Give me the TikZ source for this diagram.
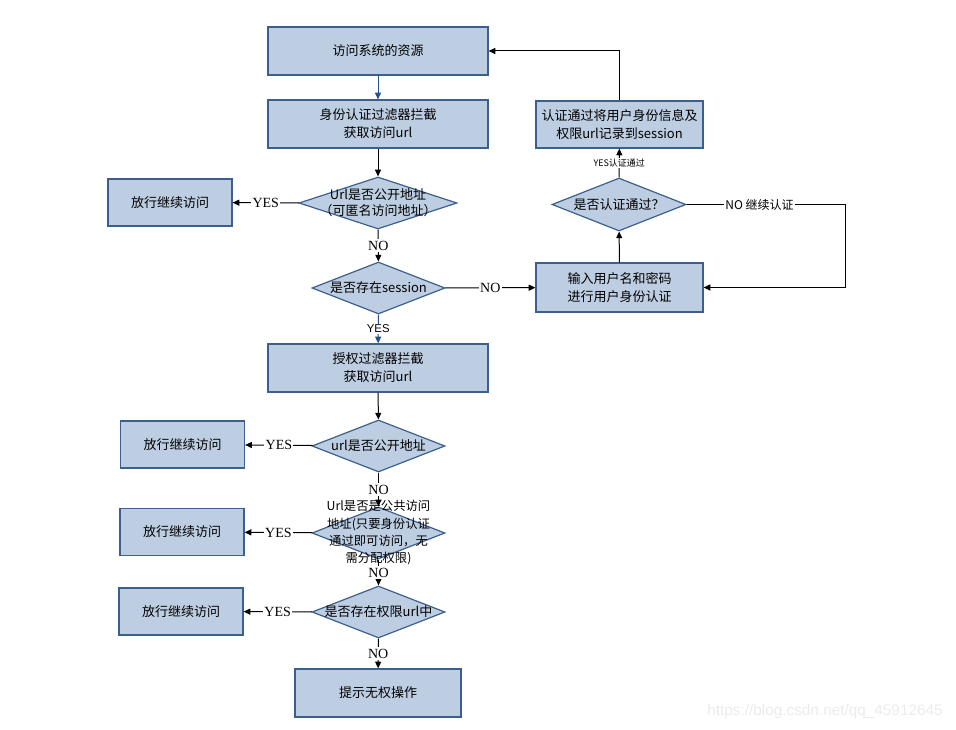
\documentclass[tikz,border=0pt]{standalone}
\usepackage{fontspec}
\setmainfont{Liberation Serif}
\setsansfont{Liberation Sans}
\newfontfamily\cjk{Noto Sans CJK SC}
\usetikzlibrary{shapes.geometric,arrows.meta}
\definecolor{boxfill}{RGB}{190,206,226}
\definecolor{boxline}{RGB}{60,96,142}
\definecolor{flowblue}{RGB}{40,80,140}
\begin{document}
\begin{tikzpicture}[x=0.75pt,y=-0.75pt,
  box/.style={draw=boxline,fill=boxfill,line width=0.9pt,inner sep=0pt,align=center,font=\cjk\fontsize{9.75}{13.5}\selectfont},
  dia/.style={diamond,draw=boxline,fill=boxfill,line width=0.9pt,inner sep=0pt},
  txt/.style={align=center,inner sep=0pt,font=\cjk\fontsize{9.75}{12}\selectfont},
  arr/.style={draw=black,line width=0.75pt,-{Triangle[length=5pt,width=4.5pt]}},
  barr/.style={draw=flowblue,line width=0.75pt,-{Triangle[length=5pt,width=4.5pt]}},
  lbl/.style={fill=white,inner sep=1pt,font=\fontsize{10.5}{12}\selectfont}]
\useasboundingbox (0,0) rectangle (956,730);

% main column
\node[box,minimum width=165pt,minimum height=36pt] (a) at (378,51) {访问系统的资源};
\node[box,minimum width=165pt,minimum height=36pt] (b) at (378,124) {身份认证过滤器拦截\\获取访问url};
\node[dia,minimum width=118.5pt,minimum height=39pt] (d1) at (378,203) {};
\node[txt] (t1) at (d1) {Url是否公开地址\\（可匿名访问地址）};
\node[dia,minimum width=99.75pt,minimum height=39pt] (d2) at (378.5,288) {};
\node[txt] (t2) at (d2) {是否存在session};
\node[box,minimum width=165pt,minimum height=36pt] (c) at (378,368) {授权过滤器拦截\\获取访问url};
\node[dia,minimum width=99.75pt,minimum height=39pt] (d3) at (378.5,446) {};
\node[txt] (t3) at (d3) {url是否公开地址};
\node[dia,minimum width=99.75pt,minimum height=39pt] (d4) at (378.5,533) {};
\node[dia,minimum width=99.75pt,minimum height=39pt] (d5) at (378.5,612) {};
\node[txt] (t5) at (d5) {是否存在权限url中};
\node[box,minimum width=124.5pt,minimum height=36pt] (e) at (378,693) {提示无权操作};

% left boxes
\node[box,minimum width=93pt,minimum height=35.25pt] (l1) at (170,202.5) {放行继续访问};
\node[box,minimum width=93pt,minimum height=35.25pt] (l2) at (182.5,444.5) {放行继续访问};
\node[box,minimum width=93pt,minimum height=35.25pt] (l3) at (182,532) {放行继续访问};
\node[box,minimum width=93pt,minimum height=35.25pt] (l4) at (181,611.5) {放行继续访问};

% right column
\node[box,minimum width=125.25pt,minimum height=35.25pt] (r1) at (619.5,124.5) {认证通过将用户身份信息及\\权限url记录到session};
\node[dia,minimum width=100.5pt,minimum height=39.75pt] (rd) at (619,204.5) {};
\node[txt] (trd) at (rd) {是否认证通过？};
\node[box,minimum width=125.25pt,minimum height=36.75pt] (r2) at (619.5,287.5) {输入用户名和密码\\进行用户身份认证};
\coordinate (k1) at (845,204.5);

% connectors
\draw[barr] (a) -- (b);
\draw[arr] (b) -- (d1);
\draw[arr] (d1) -- node[lbl]{YES} (l1);
\draw[arr] (d1) -- node[lbl]{NO} (d2);
\draw[arr] (d2) -- node[lbl]{NO} (r2);
\draw[barr] (d2) -- node[lbl,font=\sffamily\fontsize{8.5}{10}\selectfont]{YES} (c);
\draw[arr] (c) -- (d3);
\draw[arr] (d3) -- node[lbl]{YES} (l2);
\draw[arr] (d3) -- node[lbl]{NO} (d4);
\draw[arr] (d4) -- node[lbl]{YES} (l3);
\draw[arr] (d4.south) -- node[lbl]{NO} (d5);
\draw[arr] (d5) -- node[lbl]{YES} (l4);
\draw[arr] (d5) -- node[lbl]{NO} (e);
\draw[arr] (r2) -- (rd);
\draw[arr] (rd) -- node[lbl,font=\cjk\fontsize{6.75}{8}\selectfont]{YES认证通过} (r1);
\draw[arr] (rd.east) -- node[lbl,pos=0.46,font=\cjk\fontsize{9}{11}\selectfont]{NO\ 继续认证} (k1) |- (r2.east);
\draw[arr] (r1.north) |- (a.east);

% text of d4 drawn last so it lies over the connector labels, as in the reference
\node[txt,font=\cjk\fontsize{9.25}{13}\selectfont] (t4) at (d4) {Url是否是公共访问\\地址(只要身份认证\\通过即可访问，无\\需分配权限)};

% watermark
\node[font=\sffamily\fontsize{11.5}{13}\selectfont,text=black!8,inner sep=0pt] (wm) at (825,712) {https://blog.csdn.net/qq\_45912645};
\end{tikzpicture}
\end{document}
